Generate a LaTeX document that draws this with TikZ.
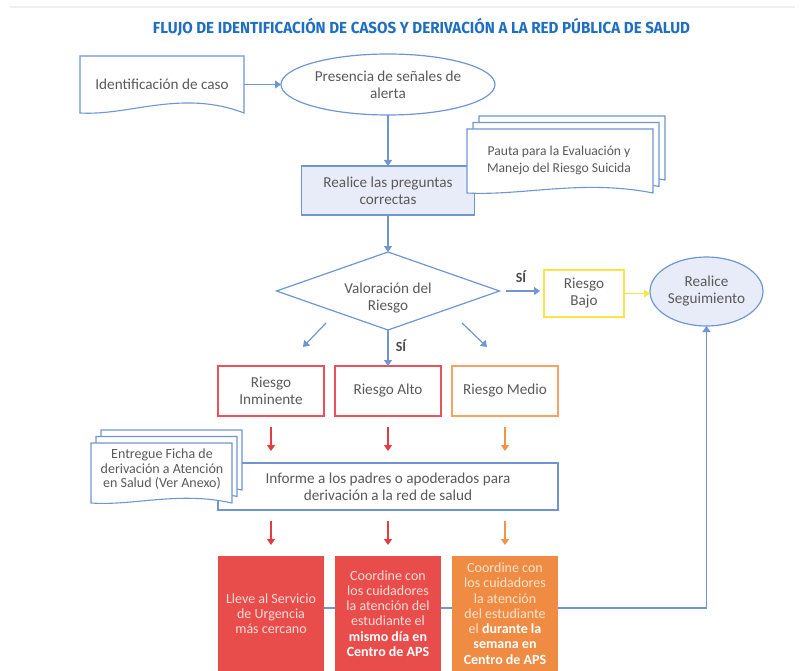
\documentclass[tikz,border=0pt]{standalone}
\usepackage{fontspec}
\setmainfont{Carlito}
\newfontfamily\titlefont{Fira Sans}
\usetikzlibrary{shapes.geometric,arrows.meta,calc,backgrounds}
\definecolor{lineblue}{HTML}{6F96D2}
\definecolor{fillblue}{HTML}{E8ECF8}
\definecolor{titleblue}{HTML}{1F6EC0}
\definecolor{txtgray}{HTML}{5A5A5A}
\definecolor{yelw}{HTML}{F9E54A}
\definecolor{redline}{HTML}{E9525C}
\definecolor{redarrow}{HTML}{E63B40}
\definecolor{redfill}{HTML}{E94D4B}
\definecolor{orgline}{HTML}{F5A263}
\definecolor{orgarrow}{HTML}{F29447}
\definecolor{orgfill}{HTML}{F08B43}
\definecolor{pinktxt}{HTML}{FCDDD6}
\definecolor{peachtxt}{HTML}{FDE4CF}
\definecolor{sigray}{HTML}{4A4A4A}
\definecolor{edgegray}{HTML}{EFEFEF}

\newcommand{\docshape}[5]{% x1 y1 x2 y2 bump
  \pgfmathsetmacro{\docw}{#3-#1}
  \draw[docline] (#1,#2) -- (#3,#2) -- (#3,#4)
    .. controls ({#1+0.62*\docw},{#4-#5}) and ({#1+0.3*\docw},{#4+3}) .. (#1,#4) -- cycle;}

\begin{document}
\begin{tikzpicture}[x=1pt,y=-1pt,
  every node/.style={inner sep=0pt, outer sep=0pt},
  base/.style={font=\fontsize{15.2}{17}\selectfont, text=txtgray, align=center},
  docline/.style={draw=lineblue, line width=1.1pt, fill=white},
  bluebox/.style={base, draw=lineblue, line width=1.2pt, fill=fillblue},
  arr/.style={-{Triangle[width=8pt,length=6pt]}, line width=1.2pt, draw=lineblue},
  sitext/.style={font=\bfseries\fontsize{14}{16}\selectfont, text=sigray},
  riskred/.style={base, draw=redline, line width=1.5pt, fill=white, minimum width=106pt, minimum height=50pt},
  riskorg/.style={base, draw=orgline, line width=1.5pt, fill=white, minimum width=106pt, minimum height=50pt},
  botbox/.style={font=\fontsize{14}{15.3}\selectfont, align=center, minimum width=106pt, minimum height=115pt},
  titlestyle/.style={font=\titlefont\bfseries\fontsize{16}{18}\selectfont, text=titleblue}
]
\path[use as bounding box] (0,0) rectangle (808,671);
\draw[edgegray, line width=1.5pt] (10,7) -- (795,7);

\node[titlestyle] (title) at (421.5,27) {\resizebox{537pt}{\height}{FLUJO DE IDENTIFICACIÓN DE CASOS Y DERIVACIÓN A LA RED PÚBLICA DE SALUD}};

% Identificacion de caso
\docshape{80}{56}{244}{113}{24}
\node[base, minimum width=164pt, minimum height=57pt] (idcaso) at (162,84.5) {Identificación de caso};

\node[ellipse, draw=lineblue, line width=1.2pt, fill=white, base, minimum width=214pt, minimum height=61pt] (senal) at (388,84.5) {Presencia de señales de\\alerta};
\draw[arr] (idcaso.east) -- (senal.west);

\node[bluebox, minimum width=173pt, minimum height=49pt] (preg) at (388,190.5) {Realice las preguntas\\correctas};
\draw[arr] (senal.south) -- (preg.north);

% Pauta stack
\docshape{479}{116}{665}{180}{14}
\docshape{473}{122.5}{659}{186.5}{14}
\docshape{467}{129}{653}{193}{14}
\node[base, font=\fontsize{13.6}{17}\selectfont] (pauta) at (559,160.5) {Pauta para la Evaluación y\\Manejo del Riesgo Suicida};

% Diamond
\node[diamond, draw=lineblue, line width=1.2pt, fill=white, minimum width=223pt, minimum height=78pt] (valor) at (388,291) {};
\node[base] (valtxt) at (388,298) {Valoración del\\Riesgo};
\draw[arr] (preg.south) -- (valor.north);

\node[sitext] (si1) at (521,277) {SÍ};
\node[base, draw=yelw, line width=1.5pt, fill=white, minimum width=80pt, minimum height=47pt] (bajo) at (584,293.5) {Riesgo\\Bajo};
\draw[arr, shorten <=6pt, shorten >=4pt] (valor.east) -- (valor.east -| bajo.west);

\node[ellipse, draw=lineblue, line width=1.2pt, fill=fillblue, base, minimum width=113pt, minimum height=69pt] (seg) at (706.5,291.5) {Realice\\Seguimiento};
\draw[arr, draw=yelw] (bajo.east) -- (bajo.east -| seg.west);

% diagonal arrows
\coordinate (dla) at (326,323);
\coordinate (dlb) at (303,347);
\coordinate (dra) at (462,323);
\coordinate (drb) at (487,347);
\draw[arr] (dla) -- (dlb);
\draw[arr] (dra) -- (drb);

% risk boxes
\node[riskred] (inm) at (271,391) {Riesgo\\Inminente};
\node[riskred] (alto) at (388,391) {Riesgo Alto};
\node[riskorg] (medio) at (505,391) {Riesgo Medio};
\node[sitext] (si2) at (401,346) {SÍ};
\draw[arr] (valor.south) -- (alto.north);

% informe
\node[base, draw=lineblue, line width=1.2pt, fill=white, minimum width=340pt, minimum height=47pt] (info) at (388,486.5) {Informe a los padres o apoderados para\\derivación a la red de salud};

\draw[arr, draw=redarrow, shorten <=11pt, shorten >=12pt] (inm.south) -- (inm.south |- info.north);
\draw[arr, draw=redarrow, shorten <=11pt, shorten >=12pt] (alto.south) -- (alto.south |- info.north);
\draw[arr, draw=orgarrow, shorten <=11pt, shorten >=12pt] (medio.south) -- (medio.south |- info.north);

% Entregue stack
\docshape{101}{430}{242}{490}{12}
\docshape{96}{436.5}{237}{496.5}{12}
\docshape{91}{443}{232}{503}{12}
\node[base, font=\fontsize{14}{14.6}\selectfont] (ficha) at (162,469.5) {Entregue Ficha de\\derivación a Atención\\en Salud (Ver Anexo)};

% bottom boxes
\node[botbox, fill=redfill, text=pinktxt] (lleve) at (271,613.5) {Lleve al Servicio\\de Urgencia\\más cercano};
\node[botbox, fill=redfill, text=pinktxt] (coord) at (388,613.5) {Coordine con\\los cuidadores\\la atención del\\estudiante el\\\textcolor{white}{\textbf{mismo día en}}\\\textcolor{white}{\textbf{Centro de APS}}};
\node[botbox, fill=orgfill, text=peachtxt] (semana) at (505,613.5) {Coordine con\\los cuidadores\\la atención\\del estudiante\\el \textcolor{white}{\textbf{durante la}}\\\textcolor{white}{\textbf{semana en}}\\\textcolor{white}{\textbf{Centro de APS}}};

\draw[arr, draw=redarrow, shorten <=11pt, shorten >=11pt] (inm.south |- info.south) -- (lleve.north);
\draw[arr, draw=redarrow, shorten <=11pt, shorten >=11pt] (alto.south |- info.south) -- (coord.north);
\draw[arr, draw=orgarrow, shorten <=11pt, shorten >=11pt] (medio.south |- info.south) -- (semana.north);

\begin{scope}[on background layer]
\draw[arr, line width=1.1pt] ([yshift=5.5pt]lleve.east) -| (seg.south);
\end{scope}
\end{tikzpicture}
\end{document}
